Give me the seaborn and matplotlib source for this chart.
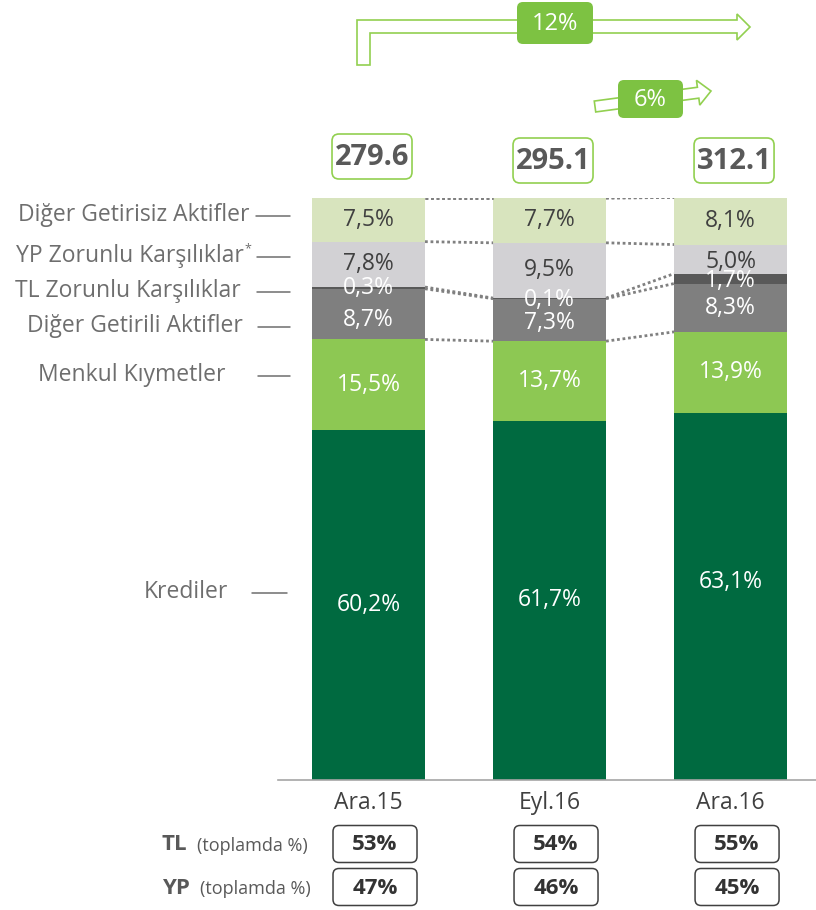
import matplotlib
matplotlib.use("Agg")
import matplotlib.pyplot as plt
from matplotlib.patches import FancyBboxPatch, Polygon
import numpy as np
import seaborn as sns

# data (bottom -> top)
periods = ["Ara.15", "Eyl.16", "Ara.16"]
segment_names = ["Krediler", "Menkul Kıymetler", "Diğer Getirili Aktifler",
                 "TL Zorunlu Karşılıklar", "YP Zorunlu Karşılıklar", "Diğer Getirisiz Aktifler"]
krediler = [60.2, 61.7, 63.1]
menkul = [15.5, 13.7, 13.9]
getirili = [8.7, 7.3, 8.3]
tl_zk = [0.3, 0.1, 1.7]
yp_zk = [7.8, 9.5, 5.0]
getirisiz = [7.5, 7.7, 8.1]
totals = [279.6, 295.1, 312.1]
tl_share = [53, 54, 55]
yp_share = [47, 46, 45]
growth = ["12%", "6%"]

layers = [krediler, menkul, getirili, tl_zk, yp_zk, getirisiz]
colors = ["#006A40", "#8DC853", "#7F7F7F", "#595959", "#D2D1D4", "#D8E4BE"]
text_cols = ["white", "white", "white", "white", "#404040", "#404040"]
# pixel nudges (down = positive) for crowded labels, keyed (layer, bar)
nudge = {(2, 0): 6, (2, 1): 3, (3, 1): 2, (4, 2): 3, (3, 2): 2, (0, 2): -14}

sns.set_style("white")
plt.rcParams["font.family"] = ["Open Sans", "DejaVu Sans"]

W, H = 816, 910
fig = plt.figure(figsize=(W / 100, H / 100), dpi=100)
ax = fig.add_axes([278 / W, 130 / H, 538 / W, 582 / H])

cum = np.cumsum(np.array(layers), axis=0)
bw = 0.624
# draw cumulative bars top-down so lower layers cover upper ones
for i in range(len(layers) - 1, -1, -1):
    sns.barplot(x=periods, y=cum[i], color=colors[i], saturation=1,
                width=bw, linewidth=0, ax=ax)

ax.set_xlim(-0.5, 2.472)
ax.set_ylim(0, 100)
for s in ["top", "right", "left"]:
    ax.spines[s].set_visible(False)
ax.spines["bottom"].set_color("#A6A6A6")
ax.spines["bottom"].set_linewidth(1.2)
ax.set_yticks([])
ax.tick_params(axis="x", length=0, pad=8, labelsize=16.5, labelcolor="#404040")
ax.set_xlabel("")
ax.set_ylabel("")

px_per_unit = 582 / 100
# segment labels
for i, vals in enumerate(layers):
    for j, v in enumerate(vals):
        yc = cum[i][j] - v / 2 - nudge.get((i, j), 0) / px_per_unit
        ax.text(j, yc, f"{v:.1f}".replace(".", ",") + "%", ha="center", va="center",
                fontsize=16.5, color=text_cols[i], zorder=5)

# dotted connectors between bars
for j in range(len(periods) - 1):
    for i in range(1, len(layers)):
        ax.plot([j + bw / 2, j + 1 - bw / 2], [cum[i][j], cum[i][j + 1]],
                ls=(0, (1, 1)), color="#808080", lw=2, zorder=1)
    ax.plot([j + bw / 2, j + 1 - bw / 2], [cum[-1][j], cum[-1][j + 1]],
            ls=(0, (1, 1)), color="#808080", lw=2, zorder=1)

# overlay in pixel coordinates for annotations
ov = fig.add_axes([0, 0, 1, 1], facecolor="none")
ov.set_xlim(0, W)
ov.set_ylim(H, 0)
ov.axis("off")


def px(xd, yd):
    dx, dy = ax.transData.transform((xd, yd))
    return dx, H - dy


def rbox(cx, cy, w, h, ec, fc="white", lw=1.2, r=7):
    ov.add_patch(FancyBboxPatch((cx - w / 2, cy - h / 2), w, h,
                                boxstyle=f"round,pad=0,rounding_size={r}",
                                ec=ec, fc=fc, lw=lw, zorder=3))


# totals
for j, t in enumerate(totals):
    cx, _ = px(j, 0)
    cy = 156.5 if j == 0 else 160.5
    rbox(cx + 3.5, cy, 80, 45, "#92D050")
    ov.text(cx + 3.5, cy + 1, f"{t:.1f}", ha="center", va="center", fontsize=21,
            fontweight="bold", color="#595959", zorder=4)

# big elbow arrow
big = [(357, 65), (357, 20), (737, 20), (737, 14), (750, 27), (737, 40),
       (737, 33), (370, 33), (370, 65)]
ov.add_patch(Polygon(big, closed=True, fc="white", ec="#92D050", lw=1.2, zorder=2))
rbox(555, 23, 76, 42, "none", fc="#7DC242", r=6)
ov.text(555, 24, growth[0], ha="center", va="center", fontsize=17, color="white", zorder=4)

# small arrow
p0 = np.array([595.0, 106.5])
p1 = np.array([711.0, 91.0])
d = (p1 - p0) / np.linalg.norm(p1 - p0)
n = np.array([d[1], -d[0]])
hl, sw, hw = 13, 5.5, 12.5
base = p1 - d * hl
small = [p0 + n * sw, base + n * sw, base + n * hw, p1, base - n * hw, base - n * sw, p0 - n * sw]
ov.add_patch(Polygon(small, closed=True, fc="white", ec="#92D050", lw=1.2, zorder=2))
rbox(650.5, 99, 65, 38, "none", fc="#7DC242", r=6)
ov.text(650.5, 100, growth[1], ha="center", va="center", fontsize=17, color="white", zorder=4)

# left category labels with dashes
lab_y = [592, 375, 326, 291, 256, 215]
lab_right = [228, 226, 243, 241, 244, 250]
dash_x = [(252, 287), (258, 290), (258, 290), (257, 290), (257, 290), (256, 290)]
for name, y, xr, (d0, d1) in zip(segment_names, lab_y, lab_right, dash_x):
    ov.text(xr, y, name, ha="right", va="center", fontsize=16.5, color="#6E6E6E")
    ov.plot([d0, d1], [y + 1, y + 1], color="#6E6E6E", lw=1.1)
ov.text(244.5, 249, "*", ha="left", va="center", fontsize=9, color="#6E6E6E")

# TL / YP share rows
for lab, x2, y, vals in [("TL", 197, 845, tl_share), ("YP", 200, 888, yp_share)]:
    ov.text(162, y, lab, ha="left", va="center", fontsize=16, fontweight="bold", color="#595959")
    ov.text(x2, y + 1, "(toplamda %)", ha="left", va="center", fontsize=13, color="#595959")
    for j, v in enumerate(vals):
        cx, _ = px(j, 0)
        rbox(cx + 6.5, y - 1, 84, 37, "#404040", lw=1.1, r=6)
        ov.text(cx + 6.5, y, f"{v}%", ha="center", va="center", fontsize=16,
                fontweight="bold", color="#333333", zorder=4)

fig.savefig("out.png", dpi=100)
